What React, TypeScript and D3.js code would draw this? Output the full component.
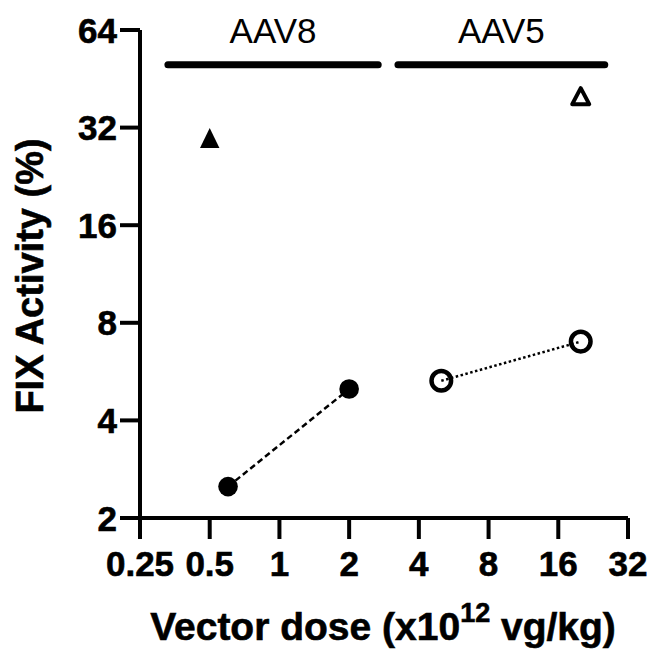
import React from "react";
import * as d3 from "d3";

const xTicks = [0.25, 0.5, 1, 2, 4, 8, 16, 32];
const xTickLabels = ["0.25", "0.5", "1", "2", "4", "8", "16", "32"];
const yTicks = [2, 4, 8, 16, 32, 64];
const yTickLabels = ["2", "4", "8", "16", "32", "64"];

// AAV8 circles (dashed line)
const aav8Dose = [0.6, 2];
const aav8Activity = [2.5, 5];
// AAV5 open circles (dotted line)
const aav5Dose = [5, 20];
const aav5Activity = [5.3, 7];
// triangles
const aav8TriDose = [0.5];
const aav8TriActivity = [29.7];
const aav5TriDose = [20];
const aav5TriActivity = [40];

const groupNames = ["AAV8", "AAV5"];
const groupStart = [0.33, 3.25];
const groupEnd = [2.67, 25.4];
const groupLevel = 50;

const W = 660;
const H = 666;
const FONT = "'Liberation Sans', Arial, Helvetica, sans-serif";

export default function App() {
  const x = d3.scaleLog().base(2).domain([0.25, 32]).range([140, 628]);
  const y = d3.scaleLog().base(2).domain([2, 64]).range([518, 30]);
  const line = d3
    .line<[number, number]>()
    .x((d) => x(d[0]))
    .y((d) => y(d[1]));

  const aav8Pts: [number, number][] = aav8Dose.map((d, i) => [d, aav8Activity[i]]);
  const aav5Pts: [number, number][] = aav5Dose.map((d, i) => [d, aav5Activity[i]]);

  const triPath = (cx: number, cy: number, hw: number, hh: number) =>
    `M${cx},${cy - hh}L${cx + hw},${cy + hh}L${cx - hw},${cy + hh}Z`;

  const boldStroke = { stroke: "#000", strokeWidth: 0.6 };

  return (
    <svg
      width={W}
      height={H}
      style={{ position: "absolute", left: 0, top: 0, background: "#fff" }}
      fontFamily={FONT}
    >
      <rect width={W} height={H} fill="#fff" />
      {/* axes */}
      <path
        d={`M${x(0.25)},${y(64)}L${x(0.25)},${y(2)}L${x(32)},${y(2)}`}
        fill="none"
        stroke="#000"
        strokeWidth={4}
        strokeLinejoin="miter"
      />
      {yTicks.map((t, i) => (
        <g key={"yt" + t}>
          <line x1={120} x2={x(0.25)} y1={y(t)} y2={y(t)} stroke="#000" strokeWidth={4} />
          <text
            x={117}
            y={y(t)}
            textAnchor="end"
            dominantBaseline="central"
            fontSize={35}
            fontWeight="bold"
            {...boldStroke}
          >
            {yTickLabels[i]}
          </text>
        </g>
      ))}
      {xTicks.map((t, i) => (
        <g key={"xt" + t}>
          <line x1={x(t)} x2={x(t)} y1={y(2)} y2={539} stroke="#000" strokeWidth={4} />
          <text
            x={x(t)}
            y={576}
            textAnchor="middle"
            fontSize={35}
            fontWeight="bold"
            {...boldStroke}
          >
            {xTickLabels[i]}
          </text>
        </g>
      ))}
      {/* axis titles */}
      <text
        transform={`translate(43,276) rotate(-90)`}
        textAnchor="middle"
        fontSize={38}
        fontWeight="bold"
        {...boldStroke}
      >
        FIX Activity (%)
      </text>
      <text
        x={383}
        y={640}
        textAnchor="middle"
        fontSize={39}
        fontWeight="bold"
        {...boldStroke}
      >
        Vector dose (x10
        <tspan fontSize={27} dy={-18}>12</tspan>
        <tspan dy={18}> vg/kg)</tspan>
      </text>
      {/* group bars */}
      {groupNames.map((g, i) => (
        <g key={g}>
          <line
            x1={x(groupStart[i])}
            x2={x(groupEnd[i])}
            y1={y(groupLevel)}
            y2={y(groupLevel)}
            stroke="#000"
            strokeWidth={7}
            strokeLinecap="round"
          />
          <text
            x={(x(groupStart[i]) + x(groupEnd[i])) / 2}
            y={43}
            textAnchor="middle"
            fontSize={35}
          >
            {g}
          </text>
        </g>
      ))}
      {/* lines */}
      <path
        d={line(aav8Pts) || ""}
        fill="none"
        stroke="#000"
        strokeWidth={2.5}
        strokeDasharray="6,3.5"
      />
      <path
        d={line(aav5Pts) || ""}
        fill="none"
        stroke="#000"
        strokeWidth={2.5}
        strokeDasharray="2.5,2.5"
      />
      {/* filled circles */}
      {aav8Pts.map((p, i) => (
        <circle key={"fc" + i} cx={x(p[0])} cy={y(p[1])} r={9.8} fill="#000" />
      ))}
      {/* open circles */}
      {aav5Pts.map((p, i) => (
        <circle
          key={"oc" + i}
          cx={x(p[0])}
          cy={y(p[1])}
          r={9.8}
          fill="none"
          stroke="#000"
          strokeWidth={4.5}
        />
      ))}
      {/* triangles */}
      {aav8TriDose.map((d, i) => (
        <path key={"ft" + i} d={triPath(x(d), y(aav8TriActivity[i]), 9.7, 10)} fill="#000" />
      ))}
      {aav5TriDose.map((d, i) => (
        <path
          key={"ot" + i}
          d={triPath(x(d), y(aav5TriActivity[i]), 8.5, 8)}
          fill="none"
          stroke="#000"
          strokeWidth={4}
          strokeLinejoin="round"
        />
      ))}
    </svg>
  );
}
